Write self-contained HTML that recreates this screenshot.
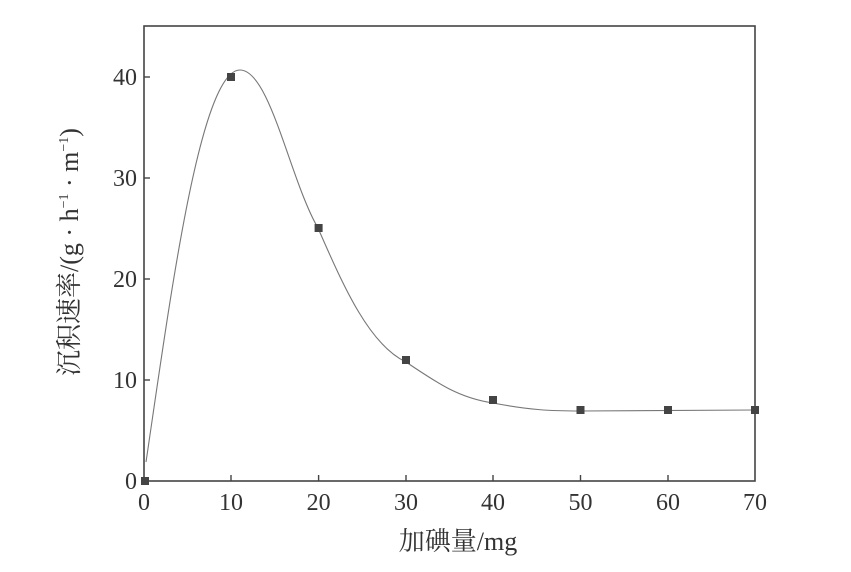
<!DOCTYPE html>
<html><head><meta charset="utf-8"><style>
body{margin:0;background:#fff;}
svg text{font-family:"Liberation Serif","Noto Serif CJK SC",serif;fill:#333;}
</style></head><body>
<svg width="851" height="567" viewBox="0 0 851 567">
<rect x="144" y="26" width="611" height="455" fill="none" stroke="#444" stroke-width="1.6"/>
<g stroke="#444" stroke-width="1.4">
<line x1="231" y1="481" x2="231" y2="475"/><line x1="318.6" y1="481" x2="318.6" y2="475"/>
<line x1="406" y1="481" x2="406" y2="475"/><line x1="493" y1="481" x2="493" y2="475"/>
<line x1="580.5" y1="481" x2="580.5" y2="475"/><line x1="668" y1="481" x2="668" y2="475"/>
<line x1="144" y1="380" x2="150" y2="380"/><line x1="144" y1="279" x2="150" y2="279"/>
<line x1="144" y1="178" x2="150" y2="178"/><line x1="144" y1="77" x2="150" y2="77"/>
</g>
<path d="M146,462 C170,300 200,70 240,70 C270,70 290,180 318,228 C345,290 370,345 406,362 C440,385 460,398 493,403 C530,410 550,411 580,411 L755,410" fill="none" stroke="#777" stroke-width="1.1"/>
<g fill="#444">
<rect x="141" y="477" width="8" height="8"/><rect x="227" y="73" width="8" height="8"/>
<rect x="314.6" y="224" width="8" height="8"/><rect x="402" y="356" width="8" height="8"/>
<rect x="489" y="396" width="8" height="8"/><rect x="576.5" y="406" width="8" height="8"/>
<rect x="664" y="406" width="8" height="8"/><rect x="751" y="406" width="8" height="8"/>
</g>
<g font-size="24" text-anchor="middle">
<text x="144" y="510">0</text><text x="231" y="510">10</text><text x="318.6" y="510">20</text>
<text x="406" y="510">30</text><text x="493" y="510">40</text><text x="580.5" y="510">50</text>
<text x="668" y="510">60</text><text x="755" y="510">70</text>
</g>
<g font-size="24" text-anchor="end">
<text x="137" y="489">0</text><text x="137" y="388">10</text><text x="137" y="287">20</text>
<text x="137" y="186">30</text><text x="137" y="85">40</text>
</g>
<text x="458" y="550" font-size="26" text-anchor="middle">加碘量/mg</text>
<text transform="translate(78,252) rotate(-90)" font-size="26" text-anchor="middle">沉积速率/(g · h<tspan font-size="14" dy="-10">−1</tspan><tspan dy="10"> · m</tspan><tspan font-size="14" dy="-10">−1</tspan><tspan dy="10">)</tspan></text>
</svg>
</body></html>
